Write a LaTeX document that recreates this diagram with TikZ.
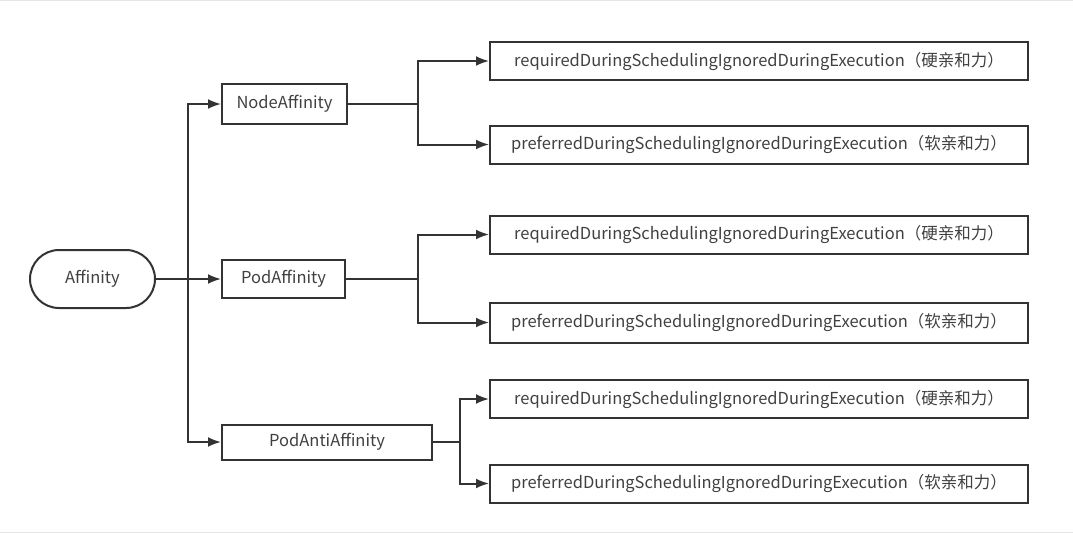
\documentclass[tikz,border=0pt]{standalone}
\usepackage{fontspec}
\setmainfont{Noto Sans CJK SC}
\usetikzlibrary{arrows.meta,shapes.misc}
\definecolor{ink}{HTML}{333333}
\definecolor{txt}{HTML}{404040}
\begin{document}
\begin{tikzpicture}[x=1pt,y=-1pt,
  box/.style={draw=ink,line width=2pt,rectangle,minimum height=38pt,inner sep=0pt,text=txt,font=\fontsize{16.5}{18}\selectfont},
  leaf/.style={box,minimum width=538pt},
  conn/.style={draw=ink,line width=2pt,-{Latex[length=13pt,width=10pt]}},
  plain/.style={draw=ink,line width=2pt}]
\useasboundingbox (0,0) rectangle (1073,533);
\draw[gray!20,line width=1pt] (0,0.5) -- (1073,0.5);
\draw[gray!20,line width=1pt] (0,532) -- (1073,532);
\node[box,rounded rectangle,minimum width=125pt,minimum height=58pt] (aff) at (92.5,279) {Affinity};
\node[box,minimum width=125pt,minimum height=40pt] (na) at (284.5,104) {NodeAffinity};
\node[box,minimum width=123pt] (pa) at (283.5,279) {PodAffinity};
\node[box,minimum width=210pt,minimum height=35pt] (paa) at (327,442) {PodAntiAffinity};
\node[leaf] (r1) at (759,61) {requiredDuringSchedulingIgnoredDuringExecution（硬亲和力）};
\node[leaf] (p1) at (759,144.5) {preferredDuringSchedulingIgnoredDuringExecution（软亲和力）};
\node[leaf] (r2) at (759,234.5) {requiredDuringSchedulingIgnoredDuringExecution（硬亲和力）};
\node[leaf,minimum height=40pt] (p2) at (759,322.5) {preferredDuringSchedulingIgnoredDuringExecution（软亲和力）};
\node[leaf] (r3) at (759,399) {requiredDuringSchedulingIgnoredDuringExecution（硬亲和力）};
\node[leaf] (p3) at (759,483.5) {preferredDuringSchedulingIgnoredDuringExecution（软亲和力）};
\coordinate (t) at (188,279);
\draw[conn] (aff.east) -- (pa.west);
\draw[conn] (t) |- (na.west);
\draw[conn] (t) |- (paa.west);
\coordinate (j1) at (418,104);
\draw[plain] (na.east) -- (j1);
\draw[conn] (j1) |- (r1.west);
\draw[conn] (j1) |- (p1.west);
\coordinate (j2) at (418,279);
\draw[plain] (pa.east) -- (j2);
\draw[conn] (j2) |- (r2.west);
\draw[conn] (j2) |- (p2.west);
\coordinate (j3) at (460,442);
\draw[plain] (paa.east) -- (j3);
\draw[conn] (j3) |- (r3.west);
\draw[conn] (j3) |- (p3.west);
\end{tikzpicture}
\end{document}
